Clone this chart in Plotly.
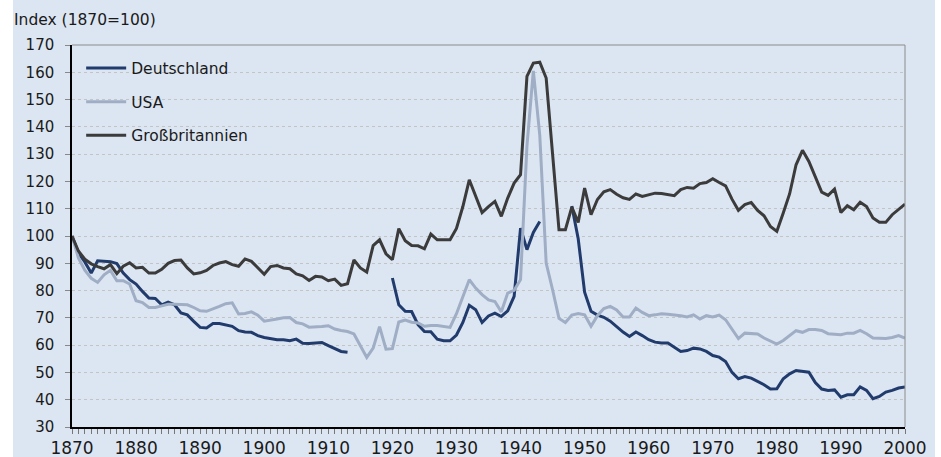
import plotly.graph_objects as go

years = list(range(1870, 2001))

deutschland = [
    100, 93.8, 90.5, 86.4, 90.9, 90.8, 90.6, 89.9, 86.4, 84.0,
    82.4, 79.7, 77.3, 77.1, 74.8, 75.8, 74.8, 71.8, 71.1, 68.7,
    66.5, 66.3, 67.9, 67.9, 67.5, 66.9, 65.3, 64.8, 64.7, 63.5,
    62.8, 62.4, 62.0, 62.0, 61.6, 62.2, 60.7, 60.6, 60.9, 61.0,
    59.8, 58.7, 57.7, 57.4, None, None, None, None, None, None,
    84.6, 74.8, 72.4, 72.3, 67.5, 65.0, 64.9, 62.2, 61.6, 61.6,
    63.7, 68.3, 74.6, 73.0, 68.3, 70.7, 71.7, 70.5, 72.6, 77.9,
    102.9, 95.0, 101.3, 105.3, None, None, None, None, 111.0, 99.0,
    79.4, 72.4, 71.0, 70.2, 68.8, 66.8, 64.8, 63.2, 64.8, 63.5,
    62.0, 61.1, 60.8, 60.8, 59.2, 57.7, 58.0, 58.9, 58.6, 57.7,
    56.2, 55.6, 54.0, 50.0, 47.7, 48.5, 47.9, 46.7, 45.5, 43.9,
    44.0, 47.7, 49.5, 50.7, 50.4, 50.1, 46.3, 43.9, 43.4, 43.6,
    40.9, 41.8, 41.8, 44.7, 43.4, 40.4, 41.2, 42.8, 43.4, 44.3,
    44.7,
]

usa = [
    100, 92.0, 87.5, 84.5, 83.0, 85.8, 87.4, 83.6, 83.6, 82.4,
    76.3, 75.6, 73.8, 73.8, 74.4, 75.0, 75.0, 75.0, 74.8, 73.8,
    72.6, 72.4, 73.2, 74.2, 75.2, 75.5, 71.4, 71.6, 72.2, 71.0,
    68.8, 69.3, 69.6, 70.0, 70.1, 68.3, 67.8, 66.6, 66.6, 66.8,
    67.1, 65.9, 65.4, 65.0, 64.1, 60.0, 55.5, 58.9, 66.8, 58.5,
    58.7, 68.5, 69.2, 68.4, 68.1, 66.9, 67.2, 67.2, 66.9, 66.5,
    71.5, 77.5, 84.0, 80.9, 78.5, 76.6, 76.0, 72.2, 79.1, 80.1,
    84.0, 133.0, 160.5, 137.0, 90.1, 80.3, 69.8, 68.3, 71.0, 71.6,
    71.1, 66.9, 70.8, 73.4, 74.2, 72.9, 70.3, 70.3, 73.6, 72.0,
    70.8, 71.1, 71.5, 71.3, 71.1, 70.8, 70.3, 71.1, 69.6, 70.8,
    70.3, 71.0, 69.3, 65.9, 62.4, 64.4, 64.2, 64.1, 62.6, 61.4,
    60.4, 61.7, 63.5, 65.3, 64.7, 65.7, 65.7, 65.4, 64.2, 64.1,
    63.8, 64.4, 64.4, 65.4, 64.2, 62.6, 62.4, 62.4, 62.8, 63.5,
    62.6,
]

grossbritannien = [
    100, 94.5, 91.5, 89.8, 88.8, 88.0, 89.5, 86.2, 88.9, 90.2,
    88.3, 88.5, 86.4, 86.4, 87.8, 90.0, 91.0, 91.2, 88.3, 86.1,
    86.5, 87.4, 89.2, 90.1, 90.6, 89.5, 88.9, 91.6, 90.7, 88.3,
    86.0, 88.8, 89.2, 88.3, 88.0, 86.1, 85.4, 83.7, 85.2, 85.0,
    83.6, 84.2, 81.9, 82.5, 91.2, 88.3, 86.8, 96.5, 98.6, 93.5,
    91.3, 102.7, 98.3, 96.5, 96.4, 95.3, 100.7, 98.6, 98.7, 98.6,
    102.8, 110.8, 120.6, 114.5, 108.6, 110.8, 112.7, 107.2, 113.9, 119.4,
    122.5, 158.5, 163.4, 163.7, 157.9, 130.0, 102.3, 102.3, 110.6, 105.0,
    117.6, 107.8, 113.4, 116.2, 117.0, 115.3, 114.0, 113.4, 115.4, 114.5,
    115.1, 115.7, 115.6, 115.1, 114.8, 117.0, 117.8, 117.5, 119.2, 119.6,
    121.0, 119.6, 118.4, 113.5, 109.4, 111.5, 112.3, 109.4, 107.4, 103.5,
    101.7, 108.4, 115.5, 126.1, 131.4, 127.3, 121.8, 116.1, 114.9, 117.2,
    108.6, 111.1, 109.6, 112.4, 110.8, 106.6, 105.0, 105.0, 107.8, 109.9,
    111.7,
]

series_names = ["Deutschland", "USA", "Großbritannien"]
series_values = [deutschland, usa, grossbritannien]
series_colors = ["#213b6c", "#9fadc5", "#3b3b3b"]

FONT = "DejaVu Sans"
BG = "#dce6f2"

fig = go.Figure()
for i, (name, vals, col) in enumerate(zip(series_names, series_values, series_colors)):
    fig.add_trace(go.Scatter(
        x=years, y=vals, name=name, mode="lines",
        line=dict(color=col, width=3),
        connectgaps=False, legendgroup=name,
    ))

fig.update_layout(
    width=941, height=457,
    margin=dict(l=72, r=36, t=45, b=30, autoexpand=False),
    paper_bgcolor="white",
    plot_bgcolor="rgba(0,0,0,0)",
    font=dict(family=FONT, color="#1a1a1a"),
    showlegend=True,
    legend=dict(
        x=0.011, y=0.983, xanchor="left", yanchor="top",
        bgcolor="rgba(0,0,0,0)", borderwidth=0,
        font=dict(family=FONT, size=15.5, color="#1a1a1a"),
        tracegroupgap=10.5, itemwidth=40,
    ),
    shapes=[
        dict(type="rect", xref="paper", yref="paper",
             x0=(13 - 72) / 833, x1=(935 - 72) / 833,
             y0=-30 / 382, y1=1 + 45 / 382,
             fillcolor=BG, line=dict(width=0), layer="below"),
        dict(type="line", xref="paper", yref="paper", x0=0, x1=1, y0=1, y1=1,
             line=dict(color="#8c8c8c", width=1), layer="above"),
        dict(type="line", xref="paper", yref="paper", x0=1, x1=1, y0=0, y1=1,
             line=dict(color="#8c8c8c", width=1), layer="above"),
    ],
    annotations=[
        dict(text="Index (1870=100)", xref="paper", yref="paper",
             x=(12 - 72) / 833, y=1 + 25 / 382, xanchor="left", yanchor="middle",
             showarrow=False, font=dict(family=FONT, size=15.5, color="#1a1a1a")),
    ],
)

fig.update_xaxes(
    range=[1870, 2000], tick0=1870, dtick=10, automargin=False,
    ticks="outside", ticklen=5, tickcolor="#777777", tickwidth=1,
    showline=True, linecolor="black", linewidth=1.5,
    showgrid=False, zeroline=False, ticklabelstandoff=0,
    tickfont=dict(family=FONT, size=17, color="#1a1a1a"),
    minor=dict(dtick=1, ticks="outside", ticklen=5, tickcolor="#777777", showgrid=False),
)
fig.update_yaxes(
    range=[30, 170], tick0=30, dtick=10, automargin=False,
    ticks="outside", ticklen=5, tickcolor="#888888",
    showline=True, linecolor="black", linewidth=1.5,
    showgrid=True, gridcolor="#c4c4c4", griddash="dot", gridwidth=1,
    zeroline=False, ticklabelstandoff=8,
    tickfont=dict(family=FONT, size=15, color="#1a1a1a"),
)

fig.write_html("out.html", config={"displayModeBar": False},
               post_script="document.body.style.margin='0';")
